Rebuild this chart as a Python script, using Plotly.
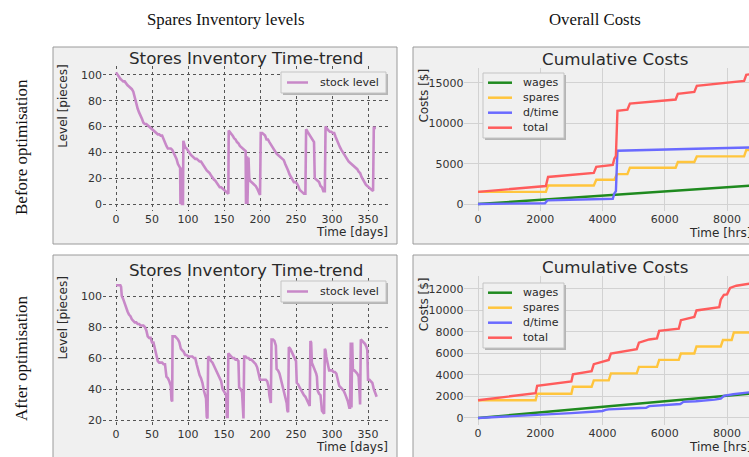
import plotly.graph_objects as go

W, H = 749, 457

# ---------------- data: stock level (days, pieces) ----------------
days_before = [0, 2, 4, 6, 8, 10, 12, 14, 16, 18, 20, 22, 24, 26, 28, 30, 32, 34, 36, 38, 40, 42, 44, 46, 48,
               50, 52, 54, 56, 58, 60, 62, 64, 66, 68, 70, 72, 74, 76, 78, 80, 82, 84, 86, 88, 89, 89.5, 90,
               90.5, 91, 91.5, 92, 93, 93.5, 95, 96, 98, 100, 102, 104, 106, 108, 110, 112, 114, 116, 118,
               120, 122, 124, 126, 128, 130, 132, 134, 136, 138, 140, 142, 144, 146, 148, 150, 152, 154, 156,
               156.5, 158, 160, 162, 164, 166, 168, 170, 172, 174, 176, 178, 180, 180.5, 181, 181.5, 182,
               182.5, 183, 183.5, 184, 185, 186, 188, 190, 192, 194, 196, 198, 200,
               201, 203, 205, 207, 209, 211, 213, 215, 217, 219, 221, 223, 225, 227, 229, 231, 233, 235, 237,
               239, 241, 243, 245, 247, 249, 251, 253, 255, 257, 259, 261, 263,
               264, 266, 268, 270, 272, 274, 275, 276, 278, 280, 282, 284, 286, 288, 290,
               291, 293, 295, 297, 299, 301, 303, 305, 307, 309, 311, 313, 315, 317, 319, 321, 323, 325, 327,
               329, 331, 333, 335, 337, 339, 341, 343, 345, 347, 349, 351, 353, 355, 357, 358, 361]
stock_before = [102, 100, 98, 97, 96, 95, 95, 93, 92, 91, 90, 89, 87, 82, 77, 74, 71, 69, 66, 63, 62, 62, 61, 60, 59,
                58, 57, 56, 55, 54, 54, 53, 53, 50, 47, 45, 43, 43, 43, 42, 40, 38, 35, 31, 29, 28, 0, 28,
                0, 27, 0, 0, 0, 49, 46, 44, 43, 41, 39, 38, 37, 36, 35, 35, 34, 33, 33,
                31, 29, 27, 26, 25, 24, 22, 20, 19, 18, 16, 15, 13, 13, 12, 11, 10, 9, 8,
                57, 56, 55, 53, 51, 50, 48, 47, 45, 44, 43, 42, 41, 0, 37, 0, 37,
                0, 36, 0, 36, 20, 18, 17, 16, 15, 14, 12, 10, 7,
                55, 55, 54, 53, 50, 50, 48, 46, 45, 43, 41, 39, 38, 37, 36, 35, 34, 31, 29,
                26, 23, 21, 18, 17, 17, 16, 14, 11, 10, 9, 8, 8,
                58, 56, 54, 52, 51, 49, 48, 20, 19, 18, 17, 14, 13, 10, 10,
                60, 58, 57, 56, 56, 55, 55, 52, 49, 46, 44, 42, 40, 38, 36, 34, 33, 32, 31,
                30, 29, 28, 27, 25, 24, 21, 19, 16, 15, 14, 13, 12, 11, 10, 59, 59]

days_after = [0, 6, 7, 8, 10, 12, 14, 16, 18, 20, 22, 24, 26, 28, 30, 32, 34, 36, 38, 40, 42, 44, 46, 48, 50, 52,
              54, 56, 58, 60, 62, 64, 66, 68, 70, 72, 74, 76, 77, 78, 78.5, 80, 82, 84, 86, 88, 90, 92, 94, 96,
              98, 100, 102, 104, 106, 108, 110, 112, 114, 116, 118, 120, 122, 124, 125, 126, 127,
              128, 130, 132, 134, 136, 138, 140, 142, 144, 146, 148, 150, 152, 153, 154, 155,
              156, 158, 160, 162, 164, 166, 168, 170, 171, 173, 175, 176, 177,
              178, 180, 182, 184, 186, 188, 190, 192, 194, 196, 198, 200, 202, 204, 206, 208, 210, 212, 213,
              214, 215, 216, 218, 220, 222, 223, 225, 227, 229, 231, 233, 235, 237, 238, 239,
              240, 242, 244, 246, 248, 250, 251, 253, 255, 257, 259, 261, 263, 265, 267, 269,
              270, 271, 272, 274, 276, 278, 279, 280, 282, 284, 286, 288, 289,
              290, 291, 292, 294, 296, 298, 300, 302, 304, 306, 308, 310, 312, 314, 316, 318, 320, 322, 324,
              325, 326, 327, 328, 329, 331, 333, 335, 337, 338, 339,
              340, 342, 344, 346, 348, 349, 350, 352, 354, 356, 358, 360, 362]
stock_after = [107, 107, 106, 100, 98, 95, 92, 90, 88, 87, 85, 84, 83, 83, 82, 82, 81, 81, 81, 80, 78, 74, 73, 73, 70, 70,
               66, 61, 58, 57, 57, 57, 56, 56, 48, 47, 45, 42, 33, 32, 74, 74, 74, 73, 72, 70, 66, 65, 64, 62,
               62, 61, 61, 61, 61, 60, 60, 56, 52, 49, 47, 44, 39, 36, 34, 22, 21,
               61, 60, 58, 57, 55, 53, 52, 50, 48, 45, 40, 38, 37, 36, 22, 22,
               63, 62, 61, 60, 60, 59, 59, 58, 41, 40, 38, 22, 21,
               61, 61, 60, 60, 59, 59, 58, 57, 56, 54, 50, 46, 46, 46, 46, 46, 45, 41, 36,
               32, 31, 72, 72, 71, 68, 53, 52, 50, 46, 43, 39, 35, 31, 26, 25,
               67, 66, 64, 62, 60, 58, 44, 43, 41, 39, 38, 36, 35, 33, 31, 29,
               71, 70, 57, 55, 53, 50, 48, 39, 37, 36, 26, 25, 24,
               66, 65, 61, 56, 52, 52, 52, 51, 51, 50, 46, 42, 41, 40, 39, 37, 35, 32, 28,
               28, 70, 28, 70, 52, 52, 51, 50, 48, 30, 30,
               72, 71, 70, 69, 67, 65, 46, 46, 45, 44, 40, 37, 35]

# ---------------- data: cumulative costs (hours, $) ----------------
hrs_wages = [0, 2000, 4000, 6000, 8000, 8760]
wages_before = [0, 520, 1040, 1560, 2080, 2280]
wages_after = [0, 520, 1040, 1560, 2080, 2270]

hrs_spares_before = [0, 2180, 2250, 3720, 3800, 4380, 4460, 4800, 4880, 6350, 6420, 6950, 7030, 8550, 8620, 8760]
spares_before = [1500, 1500, 2300, 2300, 3000, 3000, 3700, 3700, 4500, 4500, 5200, 5200, 5900, 5900, 6700, 6700]

hrs_dtime_before = [0, 2150, 2230, 3000, 4000, 4330, 4380, 4430, 4480, 6000, 7000, 8760]
dtime_before = [0, 100, 450, 520, 600, 650, 1300, 1600, 6600, 6700, 6850, 7000]

hrs_total_before = [0, 2180, 2250, 3720, 3800, 4330, 4380, 4430, 4480, 4800, 4880, 6350, 6420, 6950, 7030,
                    8550, 8620, 8760]
total_before = [1500, 2230, 3350, 3850, 4600, 4850, 5600, 5950, 11550, 11700, 12450, 12950, 13650, 13900, 14650,
                15250, 16000, 16100]

hrs_spares_after = [0, 1850, 1900, 3000, 3050, 3650, 3720, 4200, 4270, 5100, 5170, 5750, 5820, 6450, 6520, 6950,
                    7020, 7800, 7870, 8150, 8220, 8760]
spares_after = [1650, 1650, 2250, 2250, 2900, 2900, 3500, 3500, 4150, 4150, 4750, 4750, 5400, 5400, 6000, 6000,
                6650, 6650, 7250, 7250, 7950, 7950]

hrs_dtime_after = [0, 1000, 2000, 2900, 3000, 3800, 4000, 4100, 4200, 5000, 5400, 5500, 6000, 6500, 6600, 7000,
                   7600, 7800, 7900, 8200, 8760]
dtime_after = [0, 130, 280, 380, 450, 600, 650, 750, 800, 900, 950, 1100, 1200, 1300, 1500, 1550,
               1700, 1800, 2050, 2200, 2400]

hrs_total_after = [0, 1850, 1900, 3000, 3050, 3650, 3720, 4000, 4200, 4270, 5100, 5170, 5500, 5750, 5820, 6450,
                   6520, 6950, 7020, 7750, 7800, 7900, 8000, 8100, 8300, 8760]
total_after = [1650, 2300, 3000, 3400, 4050, 4350, 5000, 5200, 5400, 6000, 6400, 7000, 7300, 7400, 8100, 8300,
               9100, 9400, 10000, 10300, 11000, 11450, 11500, 12100, 12300, 12500]

# ---------------- text ----------------
col_headers = ["Spares Inventory levels", "Overall Costs"]
row_headers = ["Before optimisation", "After optimisation"]
inv_title = "Stores Inventory Time-trend"
cost_title = "Cumulative Costs"
inv_series = ["stock level"]
cost_series = ["wages", "spares", "d/time", "total"]

# ---------------- style ----------------
PURPLE = "#c888c8"
C_WAGES, C_SPARES, C_DT, C_TOTAL = "#1f8a1f", "#ffc53d", "#6a6aff", "#ff5c5c"
COST_COLORS = [C_WAGES, C_SPARES, C_DT, C_TOTAL]
PANEL = "#f0f0f0"
SANS = "DejaVu Sans"
SERIF = "Liberation Serif"
TXT = "#2a2a2a"


def px(x):
    return x / W


def py(y):
    return 1 - y / H


def xdom(a, b):
    return [max(0, px(a)), min(1, px(b))]


def ydom(top, bottom):
    return [py(bottom), py(top)]


fig = go.Figure()

# inventory traces
fig.add_trace(go.Scatter(x=days_before, y=stock_before, mode="lines", name=inv_series[0],
                         line=dict(color=PURPLE, width=2.6), xaxis="x", yaxis="y"))
fig.add_trace(go.Scatter(x=days_after, y=stock_after, mode="lines", name=inv_series[0],
                         line=dict(color=PURPLE, width=2.6), xaxis="x3", yaxis="y3"))

# costs traces
before = [(hrs_wages, wages_before), (hrs_spares_before, spares_before),
          (hrs_dtime_before, dtime_before), (hrs_total_before, total_before)]
after = [(hrs_wages, wages_after), (hrs_spares_after, spares_after),
         (hrs_dtime_after, dtime_after), (hrs_total_after, total_after)]
for name, (xx, yy), c in zip(cost_series, before, COST_COLORS):
    fig.add_trace(go.Scatter(x=xx, y=yy, mode="lines", name=name, line=dict(color=c, width=2.4),
                             xaxis="x2", yaxis="y2"))
for name, (xx, yy), c in zip(cost_series, after, COST_COLORS):
    fig.add_trace(go.Scatter(x=xx, y=yy, mode="lines", name=name, line=dict(color=c, width=2.4),
                             xaxis="x4", yaxis="y4"))

tickfont = dict(family=SANS, size=11, color="#333333")
dotted = dict(showgrid=True, gridcolor="#555555", griddash="dot", gridwidth=1, zeroline=False,
              showline=False, ticks="", tickfont=tickfont, tickformat="d")
solid = dict(showgrid=True, gridcolor="#d2d2d2", gridwidth=1.2, zeroline=False,
             showline=False, ticks="", tickfont=tickfont, tickformat="d")

# plot-area pixel boxes
L_X = (103, 389.7)
R_X = (464.4, 749)
layout_axes = dict(
    xaxis=dict(domain=xdom(*L_X), range=[-18.1, 380.1], dtick=50, anchor="y", **dotted),
    yaxis=dict(domain=ydom(65.8, 210.6), range=[-5.1, 107.1], dtick=20, anchor="x", **dotted),
    xaxis2=dict(domain=xdom(*R_X), range=[-438, 8707], dtick=2000, anchor="y2", **solid),
    yaxis2=dict(domain=ydom(67.6, 210.5), range=[-805, 16905], dtick=5000, anchor="x2", **solid),
    xaxis3=dict(domain=xdom(*L_X), range=[-18.1, 380.1], dtick=50, anchor="y3", **dotted),
    yaxis3=dict(domain=ydom(277.6, 425.9), range=[16.2, 111.9], dtick=20, anchor="x3", **dotted),
    xaxis4=dict(domain=xdom(*R_X), range=[-438, 8707], dtick=2000, anchor="y4", **solid),
    yaxis4=dict(domain=ydom(276.3, 424.7), range=[-627, 13177], dtick=2000, anchor="x4", **solid),
)

# panel frames
shapes = []
for (x0, y0, x1, y1) in [(53, 47, 397, 244), (413, 47, 770, 244), (53, 255, 397, 462), (413, 255, 770, 462)]:
    shapes.append(dict(type="rect", xref="paper", yref="paper", x0=px(x0), x1=px(x1), y0=py(y1), y1=py(y0),
                       fillcolor=PANEL, line=dict(color="#9a9a9a", width=1), layer="below"))

ann = []


def text(t, x, y, size, family=SANS, xanchor="center", yanchor="middle", angle=0, color=TXT):
    ann.append(dict(text=t, x=px(x), y=py(y), xref="paper", yref="paper", showarrow=False,
                    xanchor=xanchor, yanchor=yanchor, textangle=angle,
                    font=dict(family=family, size=size, color=color)))


def legend_box(x0, y0, x1, y1, names, colors, first_y, step, sw0, sw1, tx):
    # shadow, box, swatches and labels
    shapes.append(dict(type="rect", xref="paper", yref="paper", x0=px(x0 + 2), x1=px(x1 + 2),
                       y0=py(y1 + 2), y1=py(y0 + 2), fillcolor="#b5b5b5", line=dict(width=0),
                       layer="above"))
    shapes.append(dict(type="rect", xref="paper", yref="paper", x0=px(x0), x1=px(x1),
                       y0=py(y1), y1=py(y0), fillcolor=PANEL, line=dict(color="#c4c4c4", width=1),
                       layer="above"))
    for i, (n, c) in enumerate(zip(names, colors)):
        yy = first_y + i * step
        shapes.append(dict(type="line", xref="paper", yref="paper", x0=px(sw0), x1=px(sw1),
                           y0=py(yy), y1=py(yy), line=dict(color=c, width=2.5), layer="above"))
        text(n, tx, yy, 11, xanchor="left")


# table headers
text(col_headers[0], 226, 19, 16.8, SERIF, color="#111111")
text(col_headers[1], 595, 19, 16.8, SERIF, color="#111111")
text(row_headers[0], 21, 147, 17, SERIF, angle=-90, color="#111111")
text(row_headers[1], 21, 358, 17, SERIF, angle=-90, color="#111111")

# subplot titles and axis labels
for top, bot in [(65.8, 210.6), (277.6, 425.9)]:
    text(inv_title, (L_X[0] + L_X[1]) / 2, top - 8, 16.7)
    text("Level [pieces]", 63, top + 41, 12, angle=-90)
    text("Time [days]", L_X[1], bot + 21, 12, xanchor="right")
for top, bot in [(67.6, 210.5), (276.3, 424.7)]:
    text(cost_title, 614.5, top - 9, 16.7)
    text("Costs [$]", 424, top + 28, 12, angle=-90)
    text("Time [hrs]", 753, bot + 22.5, 12, xanchor="right")

# legends
legend_box(281, 72, 386, 93, inv_series, [PURPLE], 82.5, 15, 287, 308, 318)
legend_box(281, 281, 386, 302, inv_series, [PURPLE], 291.5, 15, 287, 308, 318)
legend_box(483, 73, 564, 138, cost_series, COST_COLORS, 82.7, 15, 488, 512, 521)
legend_box(483, 283, 564, 348, cost_series, COST_COLORS, 292.7, 15, 488, 512, 521)

fig.update_layout(
    width=W, height=H, margin=dict(l=0, r=0, t=0, b=0),
    paper_bgcolor="white", plot_bgcolor=PANEL,
    showlegend=False,
    shapes=shapes, annotations=ann,
    **layout_axes,
)

fig.write_html("out.html", config={"displayModeBar": False},
               post_script="document.body.style.margin='0';")
